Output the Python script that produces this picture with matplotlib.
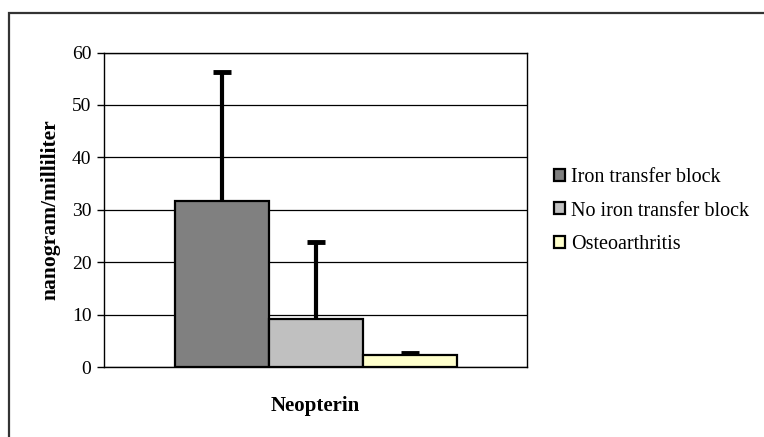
import numpy as np
import matplotlib
matplotlib.use("Agg")
import matplotlib.pyplot as plt
from matplotlib.patches import Rectangle, Patch

# data
groups = ["Iron transfer block", "No iron transfer block", "Osteoarthritis"]
means = [31.6, 9.1, 2.2]
err_up = [24.6, 14.7, 0.55]
colors = ["#808080", "#C0C0C0", "#FFFFCC"]
category = "Neopterin"
yticks = [0, 10, 20, 30, 40, 50, 60]

plt.rcParams['font.family'] = ['Liberation Serif', 'DejaVu Serif']

fig = plt.figure(figsize=(7.64, 4.37), dpi=100)
W, H = 764, 437
ax = fig.add_axes([104 / W, (H - 367) / H, 423 / W, 314.5 / H])

x = np.arange(len(groups)) - 1
ax.bar(x, means, width=1.0, color=colors, edgecolor="black", linewidth=1.6, zorder=3)
eb = ax.errorbar(x, means, yerr=[np.zeros(len(err_up)), err_up], fmt="none",
                 ecolor="black", elinewidth=3, capsize=6.5, capthick=3.5, zorder=4)
# only the upper cap is drawn in the original
for cap in eb[1]:
    if np.allclose(cap.get_ydata(), means):
        cap.set_visible(False)

ax.set_xlim(-2.25, 2.25)
ax.set_ylim(0, 60)
ax.set_yticks(yticks)
ax.yaxis.grid(True, color="black", linewidth=0.9, zorder=0)
ax.set_axisbelow(True)
ax.tick_params(axis="y", direction="out", length=5, width=1, labelsize=14, pad=4)
ax.set_xticks([0])
ax.set_xticklabels([category], fontsize=15, fontweight="bold")
ax.tick_params(axis="x", length=0, pad=21)
for s in ax.spines.values():
    s.set_linewidth(1.0)
    s.set_color("black")
ax.set_ylabel("nanogram/milliliter", fontsize=15.5, fontweight="bold", labelpad=8)

handles = [Patch(facecolor=c, edgecolor="black", linewidth=1.6) for c in colors]
fig.legend(handles, groups, loc="center left", bbox_to_anchor=(554 / W, 1 - 211 / H),
           frameon=False, fontsize=14.5, handlelength=0.55, handleheight=0.55,
           handletextpad=0.3, labelspacing=0.72, borderaxespad=0, borderpad=0)

# outer frame, cut by the image edge on the right and bottom
fig.patches.append(Rectangle((8.5 / W, -0.1), 2, (H - 13) / H + 0.1,
                             transform=fig.transFigure, fill=False,
                             edgecolor="#333333", linewidth=1.6))

fig.savefig("out.png", dpi=100)
